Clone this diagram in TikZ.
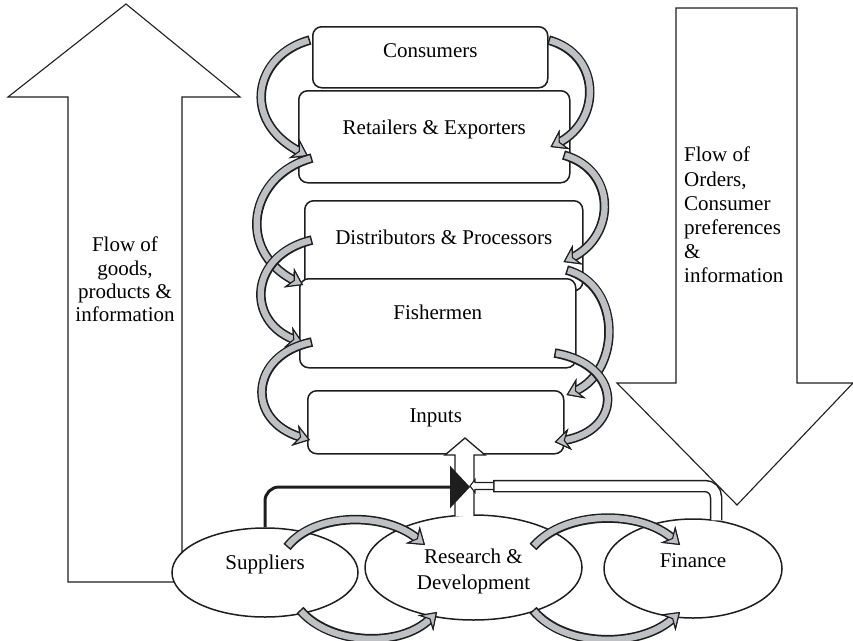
\documentclass[tikz,border=0pt]{standalone}
\usepackage{fontspec}
\setmainfont{Liberation Serif}
\usetikzlibrary{arrows.meta,shapes.geometric,calc}
\definecolor{rgray}{RGB}{190,192,196}
\definecolor{ink}{RGB}{30,30,30}
\begin{document}
\begin{tikzpicture}[x=1pt,y=-1pt,
  font=\fontsize{21}{23.3}\selectfont,
  box/.style={draw=ink, line width=1.5pt, rounded corners=9pt, fill=white, inner sep=0pt, anchor=north west},
  oval/.style={draw=ink, ellipse, line width=1.5pt, fill=white, inner sep=0pt, align=center},
  bigarrow/.style={draw=ink, line width=1.1pt, fill=white, line join=miter},
  rtip/.tip={Stealth[length=16pt,width=22pt,inset=5.5pt,line width=1.1pt,color=ink,fill=rgray]},
  ribbon/.style={draw=ink, line width=9.5pt, -rtip, postaction={draw=rgray, line width=6.3pt, shorten <=1.5pt, -rtip}},
  ]
\useasboundingbox (0,0) rectangle (853,640);

% big flow arrows
\draw[bigarrow] (126,4) -- (240,97) -- (182,97) -- (182,582) -- (68,582) -- (68,97) -- (8,97) -- cycle;
\node[anchor=north, align=center, inner sep=0pt] (goods) at (125,237) {Flow of\\goods,\\products \&\\information};
\draw[bigarrow] (676,8) -- (797,8) -- (797,383) -- (853,383) -- (737,505) -- (617,383) -- (676,383) -- cycle;
\node[anchor=north west, align=left, inner sep=0pt, font=\fontsize{21}{24.2}\selectfont] (orders) at (684,147) {Flow of\\Orders,\\Consumer\\preferences\\\&\\information};

% chain boxes
\node[box, minimum width=235pt, text height=30.5pt, text depth=30.5pt] (cons) at (312,26) {Consumers};
\node[box, minimum width=271pt, text height=43.5pt, text depth=48.5pt] (ret) at (298,90) {Retailers \& Exporters};
\node[box, minimum width=278pt, text height=43.5pt, text depth=46.5pt] (dist) at (304,200) {Distributors \& Processors};
\node[box, minimum width=276pt, text height=40.5pt, text depth=48.5pt] (fish) at (299,278) {Fishermen};
\node[box, minimum width=256pt, text height=31.5pt, text depth=31.5pt] (inp) at (307,390) {Inputs};

% support ellipses
\node[oval, minimum width=186pt, minimum height=89pt, text height=10pt, text depth=16pt] (sup) at (265,572.5) {Suppliers};
\node[oval, minimum width=217pt, minimum height=105pt, font=\fontsize{21}{26}\selectfont] (rd) at (473.5,567.5) {\rule{0pt}{22pt}Research \&\\Development};
\node[oval, minimum width=178pt, minimum height=99pt, text height=12pt, text depth=14pt] (fin) at (693,568.5) {Finance};

% junction connectors
\coordinate (hub) at (470,487);
\coordinate (jn) at (493,486);
\coordinate (finout) at ($(fin.north)+(23,2)$);

\filldraw[draw=ink, fill=white, line width=1.3pt, line join=miter] (455,516) -- (455,455) -- (445,455) -- (465,438) -- (485,455) -- (474,455) -- (474,516);

\draw[ink, line width=12.5pt, rounded corners=11pt] (finout) |- (jn);
\draw[white, line width=9.5pt, rounded corners=11pt, shorten >=1.5pt] (finout) |- (jn);

\draw[ink, line width=3pt, rounded corners=14pt, -{Triangle[length=20pt,width=42pt]}] (sup.north) |- (hub);

\draw[ink, line width=1.1pt, fill=white, line join=miter] (jn) ++(0,-3.5) -- ++(-18,0) -- ++(0,-3) -- ++(-5,6.5) -- ++(5,6.5) -- ++(0,-3) -- ++(18,0);

% ribbons, left side
\draw[ribbon] ($(cons.north west)+(-2,14)$) .. controls +(-55,15) and +(-68,-36) .. ($(ret.north west)+(10,66)$);
\draw[ribbon] ($(ret.north west)+(14,68)$) .. controls +(-62,17) and +(-68,-35) .. ($(fish.north west)+(4,7)$);
\draw[ribbon] ($(dist.north west)+(8,40)$) .. controls +(-62,15) and +(-58,-23) .. ($(fish.north west)+(4,65)$);
\draw[ribbon] ($(fish.north west)+(13,64)$) .. controls +(-62,13) and +(-65,-20) .. ($(inp.north west)+(3,50)$);
% ribbons, right side
\draw[ribbon] ($(cons.north east)+(0,14)$) .. controls +(53,15) and +(51,-27) .. ($(ret.north east)+(-20,57)$);
\draw[ribbon] ($(ret.north east)+(-7,65)$) .. controls +(53,15) and +(53,-27) .. ($(dist.north east)+(-20,62)$);
\draw[ribbon] ($(dist.north east)+(-17,70)$) .. controls +(55,15) and +(55,-25) .. ($(inp.north east)+(2,5)$);
\draw[ribbon] ($(fish.north east)+(-22,75)$) .. controls +(69,12) and +(69,-12) .. ($(inp.north east)+(-10,52)$);
% ribbons, ellipses
\draw[ribbon] ($(sup.center)+(22,-25.5)$) .. controls +(28,-35) and +(-40,-33) .. ($(rd.center)+(-48.5,-22.5)$);
\draw[ribbon] ($(rd.center)+(59.5,-20.5)$) .. controls +(32,-37) and +(-40,-35) .. ($(fin.center)+(-13,-23.5)$);
\draw[ribbon] ($(sup.center)+(35,37.5)$) .. controls +(30,35) and +(-37,36) .. ($(rd.center)+(-36.5,44.5)$);
\draw[ribbon] ($(rd.center)+(59.5,42.5)$) .. controls +(32,38) and +(-40,36) .. ($(fin.center)+(-13,43.5)$);
\end{tikzpicture}
\end{document}
